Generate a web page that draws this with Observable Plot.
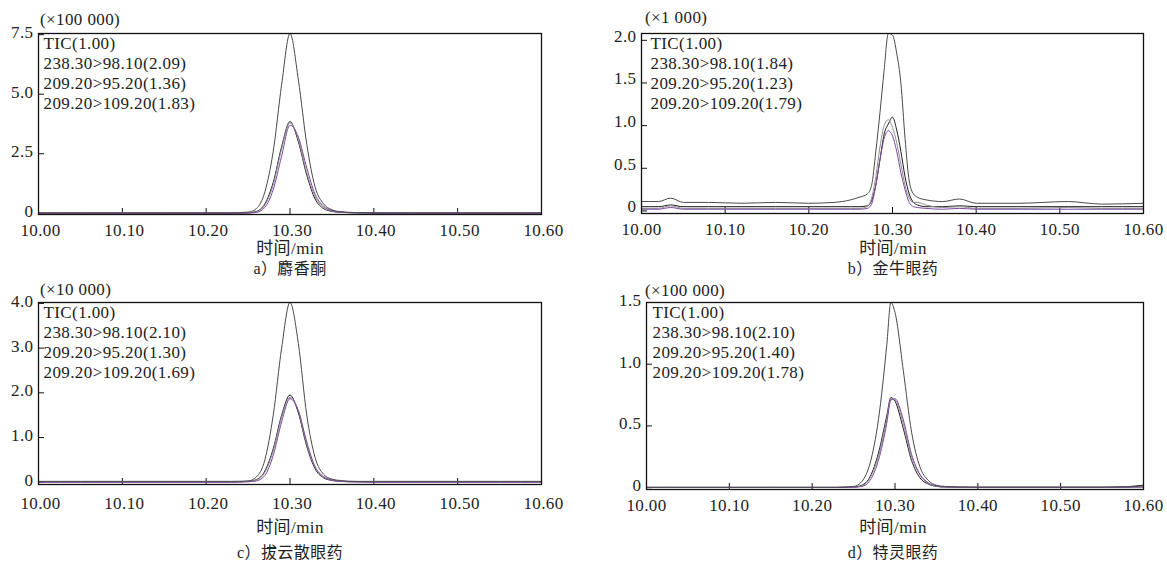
<!DOCTYPE html>
<html>
<head>
<meta charset="utf-8">
<script src="https://cdn.jsdelivr.net/npm/d3@7"></script>
<script src="https://cdn.jsdelivr.net/npm/@observablehq/plot@0.6"></script>
<style>
  html, body { margin: 0; padding: 0; background: #fff; }
  #root { position: relative; width: 1167px; height: 569px; background: #fff; overflow: hidden;
          font-family: "Liberation Serif", "Noto Sans CJK SC", serif; color: #222; }
  .panel { position: absolute; }
  .lbl { position: absolute; white-space: nowrap; font-size: 16px; line-height: 1; letter-spacing: 0.4px; }
  .ctr { transform: translate(-50%, -50%); }
  .lft { transform: translate(0, -50%); }
</style>
</head>
<body>
<div id="root"></div>
<script>
// ---------------- data ----------------
const seriesNames = ["TIC", "238.30>98.10", "209.20>95.20", "209.20>109.20"];
const seriesColors = ["#4a4a4a", "#1e1e1e", "#8f8f8f", "#7d4aa3"];
const xTicks = [10.00, 10.10, 10.20, 10.30, 10.40, 10.50, 10.60];

// a) 麝香酮
const legendA = ["TIC(1.00)", "238.30>98.10(2.09)", "209.20>95.20(1.36)", "209.20>109.20(1.83)"];
const yTicksA = [0, 2.5, 5.0, 7.5];
const timeA = [10.00, 10.05, 10.10, 10.15, 10.20, 10.23, 10.25, 10.26, 10.27, 10.28, 10.29, 10.30, 10.31, 10.32, 10.33, 10.34, 10.35, 10.36, 10.38, 10.40, 10.45, 10.50, 10.55, 10.60];
const ticA  = [0.02, 0.02, 0.02, 0.02, 0.02, 0.02, 0.05, 0.2, 0.9, 2.6, 5.4, 7.55, 5.6, 2.9, 1.1, 0.4, 0.15, 0.07, 0.03, 0.02, 0.02, 0.02, 0.02, 0.02];
const a98A  = [0.01, 0.01, 0.01, 0.01, 0.01, 0.01, 0.02, 0.08, 0.4, 1.3, 2.8, 3.85, 3.0, 1.6, 0.6, 0.2, 0.08, 0.04, 0.02, 0.01, 0.01, 0.01, 0.01, 0.01];
const a95A  = [0.01, 0.01, 0.01, 0.01, 0.01, 0.01, 0.02, 0.06, 0.35, 1.2, 2.7, 3.8, 3.1, 1.7, 0.7, 0.25, 0.1, 0.05, 0.02, 0.01, 0.01, 0.01, 0.01, 0.01];
const a109A = [0.0, 0.0, 0.0, 0.0, 0.0, 0.0, 0.01, 0.04, 0.25, 1.0, 2.4, 3.7, 3.2, 1.9, 0.8, 0.3, 0.12, 0.05, 0.02, 0.01, 0.0, 0.0, 0.0, 0.0];

// b) 金牛眼药
const legendB = ["TIC(1.00)", "238.30>98.10(1.84)", "209.20>95.20(1.23)", "209.20>109.20(1.79)"];
const yTicksB = [0, 0.5, 1.0, 1.5, 2.0];
const timeB = [10.00, 10.02, 10.035, 10.05, 10.08, 10.12, 10.16, 10.20, 10.23, 10.25, 10.26, 10.27, 10.275, 10.28, 10.285, 10.29, 10.295, 10.30, 10.305, 10.31, 10.315, 10.32, 10.325, 10.33, 10.34, 10.36, 10.38, 10.40, 10.45, 10.51, 10.55, 10.60];
const ticB  = [0.11, 0.11, 0.15, 0.10, 0.10, 0.09, 0.10, 0.09, 0.10, 0.13, 0.16, 0.2, 0.3, 0.69, 1.15, 1.65, 2.08, 2.06, 1.85, 1.5, 0.85, 0.35, 0.2, 0.16, 0.13, 0.11, 0.14, 0.09, 0.09, 0.11, 0.08, 0.09];
const b98B  = [0.05, 0.05, 0.07, 0.05, 0.05, 0.05, 0.05, 0.05, 0.05, 0.05, 0.05, 0.06, 0.12, 0.3, 0.6, 0.9, 1.02, 1.1, 0.95, 0.7, 0.4, 0.2, 0.1, 0.07, 0.05, 0.05, 0.06, 0.05, 0.05, 0.05, 0.05, 0.05];
const b95B  = [0.03, 0.03, 0.06, 0.03, 0.03, 0.03, 0.03, 0.03, 0.03, 0.03, 0.03, 0.05, 0.15, 0.4, 0.75, 1.0, 1.07, 0.98, 0.8, 0.55, 0.3, 0.15, 0.1, 0.1, 0.07, 0.04, 0.05, 0.03, 0.03, 0.04, 0.03, 0.03];
const b109B = [0.02, 0.02, 0.04, 0.02, 0.02, 0.02, 0.02, 0.02, 0.02, 0.02, 0.02, 0.03, 0.08, 0.3, 0.6, 0.85, 0.94, 0.88, 0.7, 0.45, 0.25, 0.1, 0.05, 0.04, 0.03, 0.02, 0.03, 0.02, 0.02, 0.02, 0.02, 0.02];

// c) 拔云散眼药
const legendC = ["TIC(1.00)", "238.30>98.10(2.10)", "209.20>95.20(1.30)", "209.20>109.20(1.69)"];
const yTicksC = [0, 1.0, 2.0, 3.0, 4.0];
const timeC = [10.00, 10.05, 10.10, 10.15, 10.20, 10.23, 10.25, 10.26, 10.27, 10.28, 10.29, 10.30, 10.31, 10.32, 10.33, 10.34, 10.35, 10.36, 10.38, 10.40, 10.45, 10.50, 10.55, 10.60];
const ticC  = [0.02, 0.02, 0.02, 0.02, 0.02, 0.02, 0.03, 0.12, 0.5, 1.5, 3.0, 4.02, 3.1, 1.5, 0.55, 0.18, 0.07, 0.04, 0.02, 0.02, 0.02, 0.02, 0.02, 0.02];
const c98C  = [0.01, 0.01, 0.01, 0.01, 0.01, 0.01, 0.02, 0.06, 0.25, 0.75, 1.5, 1.95, 1.55, 0.8, 0.3, 0.1, 0.04, 0.02, 0.01, 0.01, 0.01, 0.01, 0.01, 0.01];
const c95C  = [0.01, 0.01, 0.01, 0.01, 0.01, 0.01, 0.02, 0.05, 0.22, 0.7, 1.45, 1.9, 1.6, 0.85, 0.33, 0.12, 0.05, 0.02, 0.01, 0.01, 0.01, 0.01, 0.01, 0.01];
const c109C = [0.0, 0.0, 0.0, 0.0, 0.0, 0.0, 0.01, 0.03, 0.15, 0.6, 1.35, 1.87, 1.6, 0.9, 0.35, 0.13, 0.05, 0.02, 0.01, 0.0, 0.0, 0.0, 0.0, 0.0];

// d) 特灵眼药
const legendD = ["TIC(1.00)", "238.30>98.10(2.10)", "209.20>95.20(1.40)", "209.20>109.20(1.78)"];
const yTicksD = [0, 0.5, 1.0, 1.5];
const timeD = [10.00, 10.05, 10.10, 10.15, 10.20, 10.23, 10.25, 10.26, 10.27, 10.28, 10.29, 10.295, 10.30, 10.31, 10.32, 10.33, 10.34, 10.35, 10.36, 10.38, 10.40, 10.45, 10.50, 10.55, 10.58, 10.60];
const ticD  = [0.003, 0.003, 0.003, 0.003, 0.003, 0.003, 0.01, 0.05, 0.2, 0.55, 1.15, 1.5, 1.42, 0.95, 0.45, 0.17, 0.06, 0.02, 0.01, 0.005, 0.004, 0.004, 0.004, 0.004, 0.006, 0.015];
const d98D  = [0.002, 0.002, 0.002, 0.002, 0.002, 0.002, 0.005, 0.02, 0.09, 0.28, 0.58, 0.73, 0.7, 0.48, 0.22, 0.08, 0.03, 0.01, 0.005, 0.003, 0.003, 0.003, 0.003, 0.003, 0.008, 0.02];
const d95D  = [0.002, 0.002, 0.002, 0.002, 0.002, 0.002, 0.004, 0.015, 0.08, 0.25, 0.55, 0.72, 0.71, 0.52, 0.25, 0.1, 0.035, 0.012, 0.005, 0.003, 0.003, 0.003, 0.003, 0.003, 0.004, 0.006];
const d109D = [0.001, 0.001, 0.001, 0.001, 0.001, 0.001, 0.003, 0.01, 0.06, 0.22, 0.52, 0.71, 0.72, 0.55, 0.27, 0.11, 0.04, 0.015, 0.006, 0.003, 0.002, 0.002, 0.002, 0.002, 0.003, 0.004];

// ---------------- drawing ----------------
const root = document.getElementById("root");

function rows(time, arrays) {
  const out = [];
  arrays.forEach((arr, k) => arr.forEach((v, i) => out.push({t: time[i], v, s: seriesNames[k]})));
  return out;
}
function yFmt(d) { return d === 0 ? "0" : d.toFixed(1); }

function panel(cfg) {
  const fw = cfg.width - cfg.ml - cfg.mr;
  const fh = cfg.height - cfg.mt - cfg.mb;
  const data = rows(cfg.time, cfg.series);
  const ordered = data.filter(d => d.s !== "TIC").concat(data.filter(d => d.s === "TIC"));
  const chart = Plot.plot({
    width: cfg.width, height: cfg.height,
    marginLeft: cfg.ml, marginRight: cfg.mr, marginTop: cfg.mt, marginBottom: cfg.mb,
    x: {domain: [10.0, 10.6]},
    y: {domain: cfg.ydomain},
    color: {domain: seriesNames, range: seriesColors},
    style: "font-family: 'Liberation Serif', serif; font-size: 17px; letter-spacing: 0.4px; color: #222; background: transparent; overflow: visible;",
    marks: [
      Plot.axisX(xTicks, {tickSize: 0, tickPadding: cfg.xpad, dx: cfg.xdx, tickFormat: d => d.toFixed(2), label: null, fontSize: 17}),
      Plot.axisY(cfg.yticks, {tickSize: 0, tickPadding: 5, dy: cfg.ydy, tickFormat: yFmt, label: null, fontSize: 17}),
      Plot.tickX(xTicks, {x: d => d, insetTop: fh - 6, stroke: "#111", strokeWidth: 1}),
      Plot.tickY(cfg.yticks, {y: d => d, insetRight: fw - 6, stroke: "#111", strokeWidth: 1}),
      Plot.line(ordered, {x: "t", y: "v", z: "s", stroke: "s", curve: "monotone-x", strokeWidth: 1}),
      Plot.frame({stroke: "#111", strokeWidth: 1.3}),
      Plot.text([cfg.legend.join("\n")], {frameAnchor: "top-left", dx: cfg.ldx, dy: 1, lineHeight: 1.18, fontSize: 17, textAnchor: "start", fill: "#222"})
    ]
  });
  const wrap = document.createElement("div");
  wrap.className = "panel";
  wrap.style.left = cfg.left + "px";
  wrap.style.top = cfg.top + "px";
  wrap.appendChild(chart);
  root.appendChild(wrap);

  const addLabel = (text, x, y, cls, size) => {
    const el = document.createElement("div");
    el.className = "lbl " + cls;
    el.style.left = x + "px";
    el.style.top = y + "px";
    if (size) el.style.fontSize = size + "px";
    el.textContent = text;
    root.appendChild(el);
  };
  addLabel(cfg.unit, cfg.unitX, cfg.unitY, "lft", 17);
  addLabel("时间/min", cfg.cx, cfg.axisY, "ctr", 17);
  addLabel(cfg.caption, cfg.cx, cfg.capY, "ctr", 16);
}

panel({left: 0, top: 0, width: 560, height: 240, ml: 38, mr: 19, mt: 33, mb: 26, xpad: 9, xdx: 2, ydy: -2, ldx: 5,
  ydomain: [-0.05, 7.55], yticks: yTicksA, time: timeA, series: [ticA, a98A, a95A, a109A], legend: legendA,
  unit: "(×100 000)", unitX: 40, unitY: 19, cx: 290, axisY: 248, capY: 269, caption: "a）麝香酮"});

panel({left: 580, top: 0, width: 587, height: 240, ml: 61, mr: 24, mt: 33, mb: 27, xpad: 9, xdx: 0, ydy: -4, ldx: 9,
  ydomain: [-0.03, 2.08], yticks: yTicksB, time: timeB, series: [ticB, b98B, b95B, b109B], legend: legendB,
  unit: "(×1 000)", unitX: 645, unitY: 17, cx: 893, axisY: 248, capY: 269, caption: "b）金牛眼药"});

panel({left: 0, top: 270, width: 560, height: 240, ml: 38, mr: 19, mt: 32, mb: 26, xpad: 12, xdx: 2, ydy: -2, ldx: 5,
  ydomain: [-0.05, 4.02], yticks: yTicksC, time: timeC, series: [ticC, c98C, c95C, c109C], legend: legendC,
  unit: "(×10 000)", unitX: 40, unitY: 289, cx: 290, axisY: 527, capY: 553, caption: "c）拔云散眼药"});

panel({left: 580, top: 270, width: 587, height: 240, ml: 66, mr: 24, mt: 32, mb: 21, xpad: 9, xdx: 0, ydy: -2, ldx: 6,
  ydomain: [-0.015, 1.5], yticks: yTicksD, time: timeD, series: [ticD, d98D, d95D, d109D], legend: legendD,
  unit: "(×100 000)", unitX: 645, unitY: 290, cx: 893, axisY: 527, capY: 553, caption: "d）特灵眼药"});
</script>
</body>
</html>
